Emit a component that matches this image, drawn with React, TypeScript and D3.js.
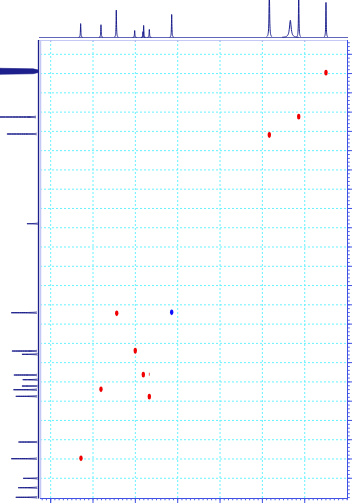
import React from "react";
import * as d3 from "d3";

// 1H cross peak positions (ppm) and 13C (ppm)
const peakH = [0.749, 1.071, 1.418, 3.22, 2.571, 3.001, 2.906, 3.406, 2.835, 3.642];
const peakC = [14.77, 26.19, 30.94, 77.2, 76.94, 86.91, 93.13, 96.92, 98.84, 114.83];
const peakSign = [1, 1, 1, 1, -1, 1, 1, 1, 1, 1];

// 1H projection (top)
const protonPpm = [3.646, 3.406, 3.225, 3.008, 2.91, 2.902, 2.835, 2.571, 1.418, 1.17, 1.071, 0.749];
const protonInt = [0.38, 0.35, 0.75, 0.19, 0.16, 0.33, 0.22, 0.63, 1.4, 0.47, 1.4, 0.96];
const protonWidth = [0.003, 0.003, 0.003, 0.003, 0.003, 0.003, 0.003, 0.003, 0.004, 0.012, 0.003, 0.003];

// 13C projection (left)
const carbonPpm = [26.27, 30.68, 53.95, 77.05, 86.99, 87.84, 93.21, 94.43, 96.07, 97.03, 98.74, 110.6, 114.93, 120.02, 122.45, 124.94];
const carbonInt = [1.1, 0.82, 0.3, 0.71, 0.69, 0.43, 0.64, 0.41, 0.43, 0.65, 0.59, 0.52, 0.71, 0.4, 0.53, 0.59];
const carbonBand = [13.63, 14.4, 15.19]; // saturated methyl band

const W = 352, H = 504;
const L = 40, R = 348, T = 40, B = 498.5;

const x = d3.scaleLinear().domain([4.126, 0.489]).range([L, R]);
const y = d3.scaleLinear().domain([6.29, 125.25]).range([T, B]);
const topI = d3.scaleLinear().domain([0, 1]).range([37.5, 1]);
const leftI = d3.scaleLinear().domain([0, 1]).range([38.5, 0]);

// one lorentzian peak, sampled only around its centre
function peakPts(c, a, w, span) {
  return d3.range(-30, 31).map(k => {
    const p = c + (k / 30) * span * w;
    const u = (p - c) / w;
    return [p, a / (1 + u * u)];
  });
}

export default function App() {
  const line = d3.line();
  const xGrid = d3.range(1, 4.01, 0.5);
  const yGrid = d3.range(10, 120.1, 5);
  const xMinor = d3.range(0.5, 4.13, 0.05);
  const yMinor = d3.range(7, 125.1, 1);
  const cw = 0.05;

  const band = line([
    [leftI(0), y(carbonBand[1] - 0.3)],
    [leftI(0.14), y(carbonBand[0] + 0.15)],
    [leftI(1), y(carbonBand[0])],
    [leftI(1), y(carbonBand[2])],
    [leftI(0.14), y(carbonBand[2] - 0.15)],
    [leftI(0), y(carbonBand[1] + 0.3)],
  ]);

  return (
    <svg width={W} height={H} style={{ position: "absolute", left: 0, top: 0 }}>
      <rect width={W} height={H} fill="#fff" />
      {/* grid */}
      {xGrid.map(g => (
        <line key={"gx" + g} x1={x(g)} x2={x(g)} y1={T} y2={B} stroke="#66f2ff" strokeDasharray="2,2" />
      ))}
      {yGrid.map(g => (
        <line key={"gy" + g} x1={L} x2={R} y1={y(g)} y2={y(g)} stroke="#66f2ff" strokeDasharray="2,2" />
      ))}
      {/* frame */}
      <line x1={L - 1} x2={R} y1={T + 0.5} y2={T + 0.5} stroke="#c4c8f4" strokeWidth={1.2} />
      <line x1={L + 0.5} x2={L + 0.5} y1={T} y2={B} stroke="#c4c8f4" strokeWidth={1.5} />
      <line x1={R - 0.5} x2={R - 0.5} y1={T} y2={B + 1} stroke="#3f50e4" strokeWidth={1} />
      <line x1={L} x2={R} y1={B} y2={B} stroke="#3f50e4" strokeWidth={1} />
      {xMinor.map(m => (
        <line key={"xm" + m} x1={x(m)} x2={x(m)} y1={B} y2={B + 1.8} stroke="#5060e8" />
      ))}
      {xGrid.concat([4.0]).map(g => (
        <line key={"xM" + g} x1={x(g)} x2={x(g)} y1={B} y2={B + 4.5} stroke="#3f50e4" />
      ))}
      {yMinor.map(m => (
        <line key={"ym" + m} x1={R} x2={R + 1.8} y1={y(m)} y2={y(m)} stroke="#5060e8" />
      ))}
      {yGrid.map(g => (
        <line key={"yM" + g} x1={R} x2={R + 4} y1={y(g)} y2={y(g)} stroke="#3f50e4" />
      ))}
      {xGrid.map(g => (
        <line key={"tM" + g} x1={x(g)} x2={x(g)} y1={T} y2={T + 2} stroke="#b0b8f0" />
      ))}
      {/* top projection */}
      <line x1={L - 1} x2={R} y1={topI(0)} y2={topI(0)} stroke="#3a3fa8" strokeWidth={0.8} />
      {protonPpm.map((p, i) => (
        <path key={"hp" + i} fill="none" stroke="#1c1f8c" strokeWidth={1}
          d={line(peakPts(p, protonInt[i], protonWidth[i], 8).map(([q, v]) => [x(q), Math.max(0, topI(v))]))} />
      ))}
      {/* left projection */}
      <line x1={leftI(0)} x2={leftI(0)} y1={T} y2={B} stroke="#1c1f8c" strokeWidth={1.3} />
      <path d={band} fill="#1c1f8c" stroke="#1c1f8c" strokeWidth={0.6} />
      {carbonPpm.map((c, i) => (
        <path key={"cp" + i} fill="none" stroke="#1c1f8c" strokeWidth={1}
          d={line(peakPts(c, carbonInt[i], cw, 4).map(([q, v]) => [Math.max(0, leftI(v)), y(q)]))} />
      ))}
      {/* cross peaks */}
      {peakH.map((h, i) => (
        <ellipse key={"p" + i} cx={x(h)} cy={y(peakC[i])} rx={1.7} ry={2.9}
          fill={peakSign[i] > 0 ? "#f00000" : "#1010ff"} />
      ))}
      <rect x={x(2.835) - 0.5} y={y(93.0) - 1.5} width={1} height={3} fill="#f06060" />
    </svg>
  );
}
